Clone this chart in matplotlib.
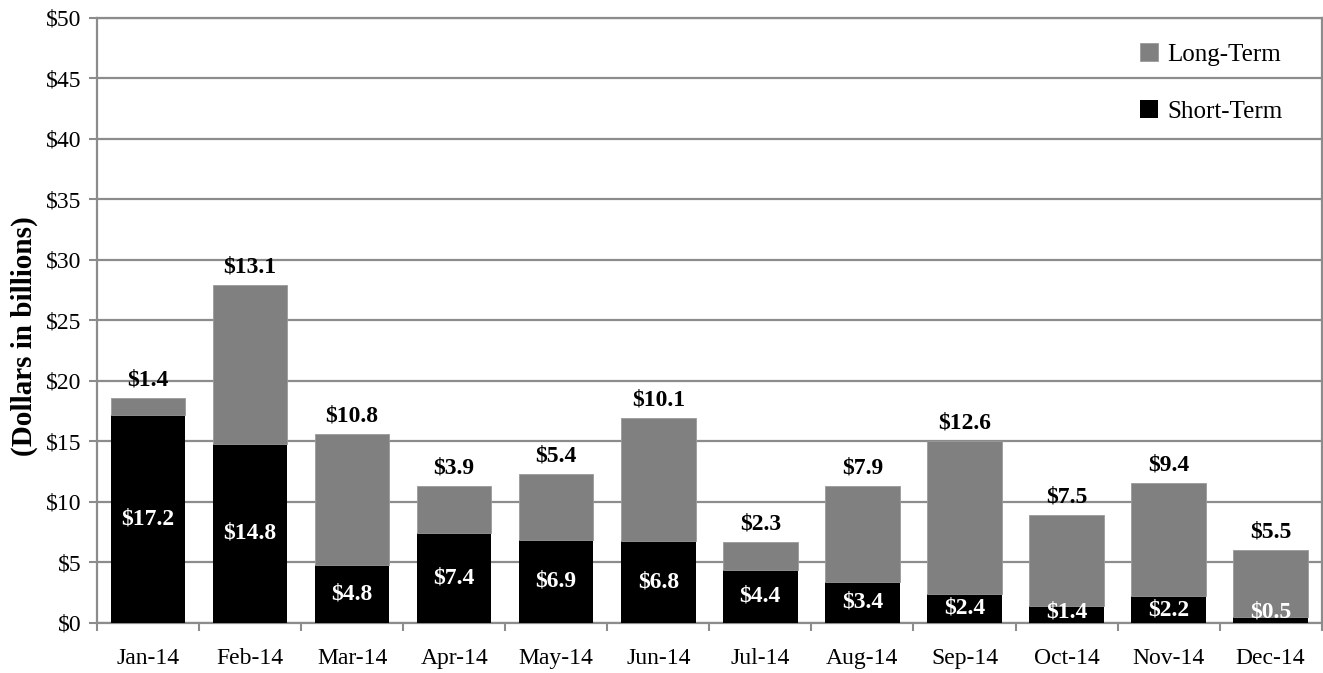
import matplotlib
matplotlib.use("Agg")
import matplotlib.pyplot as plt
import numpy as np

months = ["Jan-14", "Feb-14", "Mar-14", "Apr-14", "May-14", "Jun-14",
          "Jul-14", "Aug-14", "Sep-14", "Oct-14", "Nov-14", "Dec-14"]
short_term = [17.2, 14.8, 4.8, 7.4, 6.9, 6.8, 4.4, 3.4, 2.4, 1.4, 2.2, 0.5]
long_term = [1.4, 13.1, 10.8, 3.9, 5.4, 10.1, 2.3, 7.9, 12.6, 7.5, 9.4, 5.5]
yticks = [0, 5, 10, 15, 20, 25, 30, 35, 40, 45, 50]

plt.rcParams['font.family'] = ['Liberation Serif', 'DejaVu Serif']

fig = plt.figure(figsize=(13.23, 6.73), dpi=100)
ax = fig.add_axes([0.0733, 0.0743, 0.9257, 0.899])

x = np.arange(len(months))
w = 0.73
grid_c = '#8c8c8c'

ax.bar(x, short_term, w, color='#000000', label='Short-Term', zorder=3)
ax.bar(x, long_term, w, bottom=short_term, color='#808080',
       edgecolor='#9a9a9a', linewidth=0.6, label='Long-Term', zorder=3)

for i in range(len(months)):
    s = short_term[i]
    l = long_term[i]
    ax.text(x[i], max(s / 2, 0.95), f"${s:.1f}", ha='center', va='center',
            color='white', fontsize=17, fontweight='bold', zorder=4)
    ax.annotate(f"${l:.1f}", (x[i], s + l), xytext=(0, 13),
                textcoords='offset points', ha='center', va='center',
                color='black', fontsize=17, fontweight='bold', zorder=4)

ax.set_xlim(-0.5, len(months) - 0.5)
ax.set_ylim(0, 50)
ax.set_yticks(yticks)
ax.set_yticklabels([f"${v}" for v in yticks], fontsize=17)
ax.set_xticks(x)
ax.set_xticklabels(months, fontsize=17)
ax.tick_params(axis='x', which='major', length=0, pad=18)
ax.set_xticks(np.arange(-0.5, len(months), 1.0), minor=True)
ax.tick_params(axis='x', which='minor', length=6, width=1.5, color=grid_c, direction='out')
ax.tick_params(axis='y', length=6, width=1.5, color=grid_c, direction='out', pad=5)

ax.yaxis.grid(True, color=grid_c, linewidth=1.6, zorder=0)
ax.set_axisbelow(True)
for sp in ax.spines.values():
    sp.set_color(grid_c)
    sp.set_linewidth(1.6)

ax.set_ylabel("(Dollars in billions)", fontsize=21, fontweight='bold')
ax.yaxis.set_label_coords(-0.048, 0.474)

h, lab = ax.get_legend_handles_labels()
leg = ax.legend(h[::-1], lab[::-1], loc='upper right', frameon=False, fontsize=18,
                handlelength=0.72, handleheight=0.72, handletextpad=0.35,
                labelspacing=1.36, borderpad=0, borderaxespad=0,
                bbox_to_anchor=(0.968, 0.958))

fig.savefig("out.png", dpi=100)
